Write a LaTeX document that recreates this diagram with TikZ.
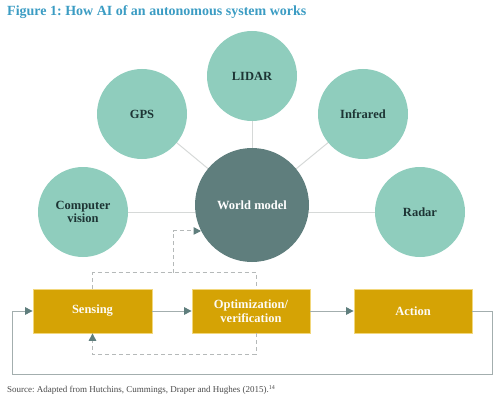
\documentclass[tikz,border=0pt]{standalone}
\usepackage{fontspec}
\setmainfont{Liberation Serif}
\frenchspacing
\usetikzlibrary{arrows.meta,calc,backgrounds}
\definecolor{titlec}{HTML}{3B9CC3}
\definecolor{mint}{HTML}{8FCDBD}
\definecolor{worldc}{HTML}{5F7E7D}
\definecolor{gold}{HTML}{D5A305}
\definecolor{goldedge}{HTML}{F2D77C}
\definecolor{darktxt}{HTML}{1D3434}
\definecolor{spoke}{HTML}{D6D9D8}
\definecolor{loopc}{HTML}{A3AEAE}
\definecolor{dashc}{HTML}{B5B9B9}
\definecolor{tipc}{HTML}{5F7E7D}
\definecolor{srcc}{HTML}{4A4A4A}
\tikzset{
  sensor/.style={circle,fill=mint,minimum size=90pt,inner sep=0pt,align=center,
    font=\fontsize{12.5}{13.5}\selectfont\bfseries,text=darktxt},
  worldnode/.style={circle,fill=worldc,minimum size=114pt,inner sep=0pt,
    font=\fontsize{12.5}{13.5}\selectfont\bfseries,text=white},
  stepbox/.style={rectangle,fill=gold,draw=goldedge,line width=0.8pt,
    minimum width=118pt,minimum height=44pt,inner sep=0pt,align=center,
    font=\fontsize{12.5}{14}\selectfont\bfseries,text=white!96!gold},
  spokeline/.style={draw=spoke,line width=1pt},
  flow/.style={draw=loopc,line width=1pt,-{Triangle[length=7.5pt,width=7.5pt,color=tipc]}},
  loopline/.style={draw=loopc,line width=1pt},
  dashline/.style={draw=dashc,line width=1pt,dash pattern=on 4pt off 3pt},
  dasharrow/.style={dashline,-{Triangle[length=7.5pt,width=7.5pt,color=tipc]}},
}
\begin{document}
\begin{tikzpicture}[x=1pt,y=-1pt]
\useasboundingbox (0,0) rectangle (500,401);
% title
\node[anchor=west,inner sep=0pt,text=titlec,font=\fontsize{14}{16}\selectfont\bfseries] (title) at (7,12) {Figure 1: How AI of an autonomous system works};
% sensors
\node[sensor] (cv) at (83,212) {Computer\\vision};
\node[sensor] (gps) at (142,114) {GPS};
\node[sensor] (lidar) at (252,76) {LIDAR};
\node[sensor] (ir) at (363,114) {Infrared};
\node[sensor] (radar) at (420,212) {Radar};
\node[worldnode] (world) at (252,205) {World model};
\begin{scope}[on background layer]
\draw[spokeline] (cv.center) -- (radar.center);
\draw[spokeline] (gps.center) -- (world.center);
\draw[spokeline] (lidar.center) -- (world.center);
\draw[spokeline] (ir.center) -- (world.center);
\end{scope}
% process boxes
\node[stepbox,minimum width=119pt] (sensing) at (92.5,311) {Sensing};
\node[stepbox] (opt) at (251,311) {Optimization/\\verification};
\node[stepbox] (action) at (413,311) {Action};
\draw[flow] (sensing) -- (opt);
\draw[flow] (opt) -- (action);
\coordinate (fr) at (492,374);
\coordinate (fl) at (12,374);
\draw[loopline] (action.east) -| (fr) -- (fl);
\draw[flow] (fl) |- (sensing.west);
% dashed feedback
\coordinate (optTop) at ($(opt.north)+(5,0)$);
\coordinate (optBot) at ($(opt.south)+(5,0)$);
\coordinate (dj) at (173,273);
\draw[dashline] (sensing.north) -- ++(0,-16) -| (optTop);
\draw[dasharrow] (dj) |- (world.207);
\draw[dasharrow] (optBot) -- ++(0,21) -| (sensing.south);
% source
\node[anchor=west,inner sep=0pt,text=srcc,font=\fontsize{9}{10}\selectfont] (src) at (7,390) {Source: Adapted from Hutchins, Cummings, Draper and Hughes (2015).\textsuperscript{14}};
\end{tikzpicture}
\end{document}
